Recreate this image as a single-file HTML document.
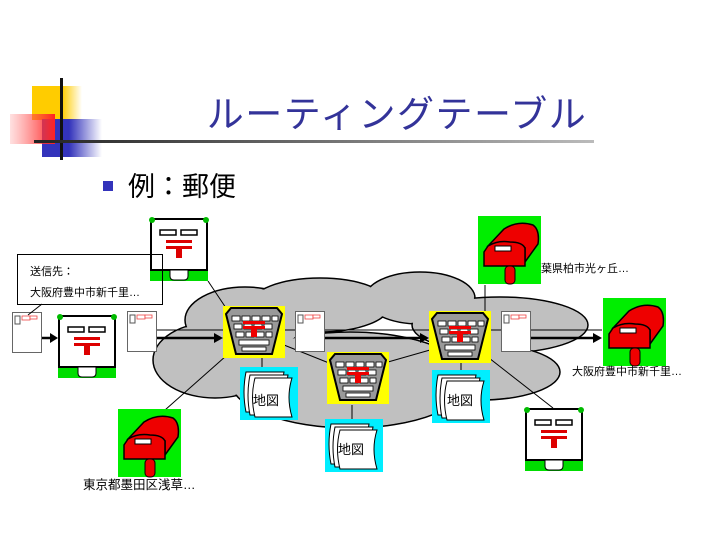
<!DOCTYPE html>
<html><head><meta charset="utf-8"><style>
html,body{margin:0;padding:0;background:#fff;}
svg{display:block;font-family:"Liberation Sans","Noto Sans CJK JP",sans-serif;}
</style></head><body>
<svg width="720" height="540" viewBox="0 0 720 540" xmlns="http://www.w3.org/2000/svg">
<defs>
<linearGradient id="gy" x1="0" x2="1"><stop offset="0.6" stop-color="#ffcc00"/><stop offset="1" stop-color="#ffcc00" stop-opacity="0"/></linearGradient>
<linearGradient id="gb" x1="0" x2="1"><stop offset="0.45" stop-color="#3333bb"/><stop offset="1" stop-color="#3333bb" stop-opacity="0"/></linearGradient>
<linearGradient id="gr" x1="1" x2="0"><stop offset="0" stop-color="#ff2222"/><stop offset="1" stop-color="#ff6666" stop-opacity="0.2"/></linearGradient>
<linearGradient id="gl" x1="0" x2="1"><stop offset="0" stop-color="#222"/><stop offset="1" stop-color="#bbb"/></linearGradient>
<g id="wpb">
<rect x="0" y="50" width="58" height="13" fill="#00dd00"/>
<rect x="1" y="1" width="56" height="51" fill="#fff" stroke="#000" stroke-width="2"/>
<circle cx="2" cy="2" r="3" fill="#00bb00"/><circle cx="56" cy="2" r="3" fill="#00bb00"/>
<path d="M20 52 H38 V58 Q38 62 34 62 H24 Q20 62 20 58 Z" fill="#fff" stroke="#000"/>
<rect x="10" y="12" width="16" height="5" fill="#fff" stroke="#000" stroke-width="1.5"/>
<rect x="31" y="12" width="16" height="5" fill="#fff" stroke="#000" stroke-width="1.5"/>
<rect x="16" y="22" width="26" height="3" fill="#dd0000"/>
<rect x="16" y="28" width="26" height="3" fill="#dd0000"/>
<rect x="26" y="28" width="6" height="12" fill="#dd0000"/>
</g>
<g id="rmb">
<rect x="0" y="0" width="63" height="68" fill="#00ee00"/>
<path d="M10 30 L26 13 Q40 4 55 9 Q62 14 60 28 L47 46 L47 32 Z" fill="#ee0000" stroke="#000" stroke-width="1.5"/>
<path d="M10 30 Q20 24 32 26 Q44 26 47 32 L47 50 L6 50 L6 36 Z" fill="#ee0000" stroke="#000" stroke-width="1.5"/>
<rect x="17" y="30" width="16" height="5" fill="#fff" stroke="#000"/>
<rect x="27" y="50" width="10" height="18" rx="4" fill="#ee0000" stroke="#000"/>
</g>
<g id="po">
<rect x="0" y="0" width="62" height="52" fill="#ffff00"/>
<path d="M3 8 L8 2 H54 L59 8 L49 48 H13 Z" fill="#999" stroke="#000" stroke-width="2"/>
<g fill="#fff" stroke="#000" stroke-width="0.8">
<rect x="9" y="10" width="8" height="5"/><rect x="19" y="10" width="8" height="5"/><rect x="29" y="10" width="8" height="5"/><rect x="39" y="10" width="8" height="5"/><rect x="49" y="10" width="6" height="5"/>
<rect x="11" y="18" width="8" height="5"/><rect x="21" y="18" width="8" height="5"/><rect x="31" y="18" width="8" height="5"/><rect x="41" y="18" width="8" height="5"/>
<rect x="13" y="26" width="8" height="5"/><rect x="23" y="26" width="8" height="5"/><rect x="33" y="26" width="8" height="5"/><rect x="43" y="26" width="6" height="5"/>
<rect x="16" y="34" width="30" height="5"/>
<rect x="19" y="41" width="24" height="4"/>
</g>
<rect x="20" y="15" width="22" height="3" fill="#ee0000"/>
<rect x="20" y="20" width="22" height="3" fill="#ee0000"/>
<rect x="28" y="20" width="6" height="11" fill="#ee0000"/>
</g>
<g id="map">
<rect x="0" y="0" width="58" height="53" fill="#00eeff"/>
<path d="M6 5 Q2 25 6 45 H44 Q40 25 44 5 Z" fill="#fff" stroke="#000"/>
<path d="M10 8 Q6 28 10 48 H48 Q44 28 48 8 Z" fill="#fff" stroke="#000"/>
<path d="M15 11 Q10 30 15 50 H52 Q46 30 52 11 Z" fill="#fff" stroke="#000"/>
</g>
<g id="env">
<rect x="0.5" y="0.5" width="29" height="40" fill="#fff" stroke="#666"/>
<rect x="3" y="4" width="5" height="8" fill="#fff" stroke="#555"/>
<rect x="10" y="4" width="8" height="4" fill="#fff" stroke="#e44" stroke-width="0.8"/>
<rect x="18" y="4" width="7" height="3" fill="#fff" stroke="#e44" stroke-width="0.8"/>
</g>
</defs>

<!-- logo -->
<rect x="32" y="86" width="50" height="34" fill="url(#gy)"/>
<rect x="42" y="119" width="60" height="38" fill="url(#gb)"/>
<rect x="10" y="114" width="45" height="30" fill="url(#gr)"/>
<rect x="60" y="78" width="3" height="82" fill="#111"/>
<rect x="34" y="140" width="560" height="3" fill="url(#gl)"/>
<text x="397" y="127" font-size="37" fill="#333399" text-anchor="middle" letter-spacing="1.5">ルーティングテーブル</text>
<rect x="103" y="181" width="10" height="10" fill="#3333bb"/>
<text x="128" y="196" font-size="27" fill="#000">例：郵便</text>

<!-- cloud -->
<g fill="#c0c0c0" stroke="#000" stroke-width="1.5">
<ellipse cx="215" cy="360" rx="62" ry="38"/>
<ellipse cx="245" cy="320" rx="60" ry="33"/>
<ellipse cx="320" cy="305" rx="70" ry="27"/>
<ellipse cx="420" cy="298" rx="55" ry="26"/>
<ellipse cx="500" cy="325" rx="88" ry="28"/>
<ellipse cx="350" cy="380" rx="120" ry="48"/>
<ellipse cx="480" cy="372" rx="80" ry="28"/>
</g>
<g fill="#c0c0c0">
<ellipse cx="215" cy="360" rx="61" ry="37"/>
<ellipse cx="245" cy="320" rx="59" ry="32"/>
<ellipse cx="320" cy="305" rx="69" ry="26"/>
<ellipse cx="420" cy="298" rx="54" ry="25"/>
<ellipse cx="500" cy="325" rx="87" ry="27"/>
<ellipse cx="350" cy="380" rx="119" ry="47"/>
<ellipse cx="480" cy="372" rx="79" ry="27"/>
</g>

<!-- connectors -->
<g stroke="#000" stroke-width="1" fill="none">
<line x1="208" y1="281" x2="226" y2="308"/>
<line x1="226" y1="356" x2="165" y2="410"/>
<line x1="262" y1="358" x2="262" y2="368"/>
<line x1="284" y1="345" x2="329" y2="363"/>
<line x1="352" y1="405" x2="352" y2="420"/>
<line x1="388" y1="362" x2="430" y2="350"/>
<line x1="485" y1="285" x2="485" y2="312"/>
<line x1="461" y1="363" x2="461" y2="371"/>
<line x1="489" y1="358" x2="553" y2="408"/>
<line x1="156" y1="330" x2="602" y2="330"/>
</g>
<g stroke="#000" stroke-width="2.5">
<line x1="42" y1="338" x2="52" y2="338"/>
<line x1="156" y1="338" x2="216" y2="338"/>
<line x1="325" y1="338" x2="422" y2="338"/>
<line x1="530" y1="338" x2="595" y2="338"/>
</g>
<g fill="#000">
<path d="M58 338 L50 333 L50 343 Z"/>
<path d="M223 338 L214 333 L214 343 Z"/>
<path d="M429 338 L420 333 L420 343 Z"/>
<path d="M602 338 L593 333 L593 343 Z"/>
</g>

<use href="#wpb" x="150" y="218"/>
<use href="#wpb" x="58" y="315"/>
<use href="#wpb" x="525" y="408"/>
<use href="#rmb" x="478" y="216"/>
<use href="#rmb" x="603" y="298"/>
<use href="#rmb" x="118" y="409"/>
<use href="#po" x="223" y="306"/>
<use href="#po" x="327" y="352"/>
<use href="#po" x="429" y="311"/>
<use href="#map" x="240" y="367"/>
<use href="#map" x="325" y="419"/>
<use href="#map" x="432" y="370"/>
<text x="253" y="405" font-size="13">地図</text>
<text x="338" y="454" font-size="13">地図</text>
<text x="447" y="405" font-size="13">地図</text>
<use href="#env" x="12" y="312"/>
<use href="#env" x="127" y="311"/>
<use href="#env" x="295" y="311"/>
<use href="#env" x="501" y="311"/>

<!-- callout -->
<rect x="17.5" y="254.5" width="145" height="50" fill="none" stroke="#000"/>
<path d="M42 304 L28 315" stroke="#000" fill="none"/>
<text x="30" y="275" font-size="11">送信先：</text>
<text x="30" y="296" font-size="11">大阪府豊中市新千里…</text>

<text x="541" y="272" font-size="11">葉県柏市光ヶ丘…</text>
<text x="572" y="375" font-size="11">大阪府豊中市新千里…</text>
<text x="83" y="489" font-size="12.5">東京都墨田区浅草…</text>
</svg>
</body></html>
